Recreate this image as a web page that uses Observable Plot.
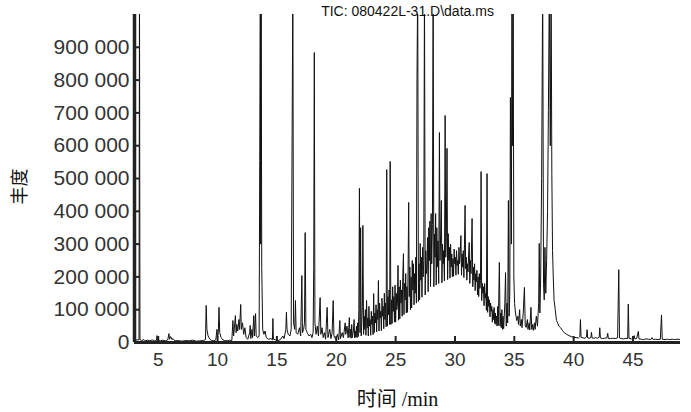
<!DOCTYPE html>
<html><head><meta charset="utf-8">
<script src="https://cdn.jsdelivr.net/npm/d3@7"></script>
<script src="https://cdn.jsdelivr.net/npm/@observablehq/plot@0.6"></script>
<style>
html,body{margin:0;padding:0;background:#fff;}
</style>
</head><body><div id="chart"></div>
<script>
const title = "TIC: 080422L-31.D\\data.ms";
const xLabel = "时间 /min";
const yLabel = "丰度";
const xTicks = [5, 10, 15, 20, 25, 30, 35, 40, 45];
const yTicks = [0, 100000, 200000, 300000, 400000, 500000, 600000, 700000, 800000, 900000];

// [time (min), abundance]
const early = [
  [3.0, 8000], [3.38, 8000], [3.42, 1100000], [3.46, 9000], [3.6, 6000], [3.8, 9000], [3.9, 5000],
  [4.1, 7000], [4.3, 5000], [4.5, 8000], [4.7, 5000], [4.85, 6000], [4.9, 21000], [4.95, 6000],
  [5.2, 5000], [5.4, 7000], [5.6, 5000], [5.8, 8000], [5.9, 27000], [5.95, 10000], [6.05, 18000],
  [6.15, 9000], [6.25, 12000], [6.4, 5000], [6.7, 6000], [7.0, 4000], [7.3, 6000], [7.6, 5000],
  [7.9, 7000], [8.2, 4000], [8.5, 5000], [8.8, 6000], [8.98, 9000], [9.04, 113000], [9.1, 40000],
  [9.2, 20000], [9.35, 10000], [9.5, 6000], [9.7, 5000], [9.85, 8000], [9.95, 40000], [10.0, 15000],
  [10.06, 30000], [10.12, 107000], [10.18, 30000], [10.3, 15000], [10.45, 8000], [10.6, 6000],
  [10.8, 5000], [11.0, 7000], [11.2, 6000], [11.29, 67000], [11.35, 20000], [11.45, 60000],
  [11.5, 82000], [11.56, 30000], [11.62, 55000], [11.7, 35000], [11.8, 70000], [11.85, 40000],
  [11.95, 116000], [12.0, 40000], [12.1, 60000], [12.2, 25000], [12.3, 45000], [12.4, 15000],
  [12.55, 10000], [12.7, 30000], [12.75, 52000], [12.8, 12000], [12.9, 40000], [12.95, 15000],
  [13.05, 82000], [13.1, 20000]
];
const middle = [
  [13.2, 88000], [13.25, 20000], [13.4, 15000], [13.5, 20000], [13.55, 555000], [13.6, 1100000],
  [13.63, 300000], [13.67, 1100000], [13.72, 229000], [13.8, 40000], [13.9, 25000], [14.0, 35000], [14.1, 15000],
  [14.3, 10000], [14.5, 12000], [14.62, 8000], [14.66, 73000], [14.7, 10000], [14.9, 8000],
  [15.1, 6000], [15.3, 9000], [15.5, 20000], [15.6, 12000], [15.75, 40000], [15.8, 92000],
  [15.85, 40000], [15.95, 25000], [16.1, 20000], [16.2, 40000], [16.28, 640000], [16.34, 1100000],
  [16.4, 60000], [16.5, 40000], [16.56, 128000], [16.62, 30000], [16.75, 25000], [16.9, 45000],
  [17.0, 20000], [17.1, 204000], [17.15, 30000], [17.25, 40000], [17.32, 60000], [17.38, 335000],
  [17.44, 40000], [17.55, 30000], [17.7, 20000], [17.85, 25000], [17.95, 15000], [18.05, 30000],
  [18.1, 229000], [18.15, 884000], [18.2, 60000], [18.3, 25000], [18.4, 50000], [18.5, 20000],
  [18.64, 137000], [18.7, 25000], [18.8, 45000], [18.9, 15000], [19.0, 30000], [19.1, 10000],
  [19.23, 107000], [19.3, 15000], [19.45, 40000], [19.55, 12000], [19.65, 30000], [19.74, 128000],
  [19.8, 20000], [19.95, 10000], [20.1, 25000], [20.2, 8000], [20.3, 67000], [20.35, 12000],
  [20.5, 30000], [20.6, 15000], [20.75, 60000], [20.8, 25000], [20.9, 50000]
];
const hump = [
  [21.0, 14000], [21.05, 45000], [21.1, 76000], [21.15, 16000], [21.2, 40000], [21.25, 13000],
  [21.3, 55000], [21.35, 15000], [21.45, 38000], [21.5, 70000], [21.55, 14000], [21.6, 35000],
  [21.65, 16000], [21.7, 50000], [21.75, 15000], [21.8, 60000], [21.85, 18000], [21.9, 100000],
  [21.95, 470000], [22.0, 30000], [22.05, 350000], [22.1, 20000], [22.15, 60000], [22.2, 110000],
  [22.24, 357000], [22.3, 25000], [22.35, 80000], [22.4, 40000], [22.45, 100000], [22.5, 22000],
  [22.55, 128000], [22.6, 45000], [22.65, 75000], [22.7, 20000], [22.75, 110000], [22.8, 50000],
  [22.85, 70000], [22.9, 22000], [22.95, 95000], [23.0, 55000], [23.05, 80000], [23.1, 24000],
  [23.15, 149000], [23.2, 30000], [23.25, 90000], [23.3, 60000], [23.35, 115000], [23.4, 32000],
  [23.45, 100000], [23.5, 70000], [23.55, 189000], [23.6, 35000], [23.65, 120000], [23.7, 75000],
  [23.75, 95000], [23.8, 36000], [23.85, 135000], [23.9, 80000], [23.95, 110000], [24.0, 42000],
  [24.05, 150000], [24.1, 70000], [24.15, 120000], [24.2, 48000], [24.25, 527000], [24.3, 50000],
  [24.35, 140000], [24.4, 85000], [24.45, 160000], [24.5, 55000], [24.54, 552000], [24.6, 55000],
  [24.65, 130000], [24.7, 58000], [24.75, 170000], [24.8, 95000], [24.85, 140000], [24.9, 62000],
  [24.95, 175000], [25.0, 62000], [25.05, 150000], [25.1, 100000], [25.15, 120000], [25.2, 235000],
  [25.25, 68000], [25.3, 170000], [25.35, 72000], [25.4, 190000], [25.45, 120000], [25.5, 160000],
  [25.55, 80000], [25.6, 200000], [25.66, 271000], [25.7, 85000], [25.75, 180000], [25.8, 130000],
  [25.85, 210000], [25.9, 90000], [25.95, 170000], [26.0, 92000], [26.05, 220000], [26.1, 427000],
  [26.15, 140000], [26.2, 230000], [26.25, 100000], [26.3, 200000], [26.35, 105000], [26.4, 250000],
  [26.45, 160000], [26.5, 240000], [26.55, 115000], [26.6, 210000], [26.65, 150000], [26.7, 260000],
  [26.75, 120000], [26.8, 805000], [26.86, 1100000], [26.92, 125000], [26.97, 240000], [27.02, 130000],
  [27.07, 302000], [27.12, 190000], [27.17, 260000], [27.22, 138000], [27.27, 290000], [27.32, 200000],
  [27.37, 250000], [27.43, 1100000], [27.49, 145000], [27.54, 280000], [27.59, 210000], [27.64, 230000],
  [27.69, 320000], [27.74, 155000], [27.79, 350000], [27.84, 250000], [27.89, 370000], [27.94, 170000],
  [27.99, 393000], [28.04, 240000], [28.1, 360000], [28.16, 1100000], [28.22, 170000], [28.27, 330000],
  [28.32, 260000], [28.37, 393000], [28.42, 175000], [28.47, 350000], [28.52, 230000], [28.57, 310000],
  [28.63, 180000], [28.69, 640000], [28.74, 250000], [28.8, 340000], [28.85, 433000], [28.9, 182000],
  [28.95, 300000], [29.0, 240000], [29.05, 280000], [29.11, 188000], [29.17, 692000], [29.22, 260000],
  [29.27, 320000], [29.33, 592000], [29.38, 192000], [29.43, 332000], [29.48, 250000], [29.53, 290000],
  [29.58, 196000], [29.63, 300000], [29.68, 230000], [29.73, 270000], [29.78, 200000], [29.83, 256000],
  [29.88, 202000], [29.93, 285000], [29.98, 240000], [30.03, 260000], [30.08, 205000], [30.13, 280000],
  [30.18, 235000], [30.23, 250000], [30.28, 208000], [30.33, 290000], [30.38, 240000], [30.43, 260000],
  [30.5, 326000], [30.55, 205000], [30.6, 270000], [30.65, 230000], [30.7, 280000], [30.75, 198000],
  [30.8, 300000], [30.85, 418000], [30.9, 225000], [30.95, 260000], [31.0, 190000], [31.05, 240000],
  [31.1, 215000], [31.15, 270000], [31.2, 305000], [31.25, 180000], [31.3, 250000], [31.35, 210000],
  [31.44, 378000], [31.5, 170000], [31.55, 230000], [31.6, 190000], [31.65, 240000], [31.7, 158000],
  [31.75, 210000], [31.8, 185000], [31.85, 220000], [31.9, 145000], [31.95, 200000], [32.0, 140000],
  [32.05, 210000], [32.1, 165000], [32.15, 190000], [32.2, 521000], [32.25, 128000], [32.3, 180000],
  [32.35, 150000], [32.4, 170000], [32.45, 112000], [32.5, 180000], [32.55, 135000], [32.6, 150000],
  [32.65, 98000], [32.7, 515000], [32.75, 92000], [32.8, 140000], [32.85, 110000], [32.9, 130000],
  [32.95, 78000], [33.0, 120000], [33.05, 95000], [33.1, 110000], [33.15, 62000], [33.2, 100000],
  [33.25, 70000], [33.3, 107000], [33.35, 58000], [33.4, 90000], [33.45, 55000], [33.5, 80000],
  [33.55, 50000], [33.6, 110000], [33.65, 52000], [33.74, 244000], [33.8, 50000], [33.85, 90000],
  [33.9, 45000], [33.95, 100000]
];
const late = [
  [34.0, 40000], [34.05, 80000], [34.1, 42000], [34.2, 120000], [34.26, 213000], [34.32, 50000],
  [34.38, 120000], [34.44, 60000], [34.5, 433000], [34.56, 80000], [34.62, 150000], [34.67, 747000],
  [34.75, 300000], [34.8, 1100000], [34.85, 600000], [34.9, 1100000], [34.96, 200000], [35.02, 119000],
  [35.1, 90000], [35.2, 67000], [35.3, 80000], [35.35, 55000], [35.45, 100000], [35.5, 50000],
  [35.6, 70000], [35.65, 45000], [35.75, 90000], [35.85, 168000], [35.92, 50000], [36.0, 46000],
  [36.1, 70000], [36.15, 40000], [36.25, 60000], [36.3, 38000], [36.4, 107000], [36.47, 40000],
  [36.55, 55000], [36.6, 37000], [36.7, 60000], [36.75, 40000], [36.85, 80000], [36.95, 50000],
  [37.05, 120000], [37.1, 302000], [37.15, 90000], [37.22, 200000], [37.3, 500000], [37.39, 1100000],
  [37.46, 180000], [37.52, 130000], [37.58, 290000], [37.65, 150000], [37.72, 250000], [37.8, 400000],
  [37.87, 707000], [37.95, 1100000], [38.03, 600000], [38.1, 1100000], [38.16, 515000], [38.22, 280000],
  [38.28, 200000], [38.35, 128000], [38.45, 100000], [38.55, 67000], [38.65, 60000], [38.75, 50000],
  [38.9, 45000], [39.05, 37000]
];
const tail = [
  [39.2, 30000], [39.4, 25000], [39.6, 21000], [39.8, 18000], [40.0, 16000], [40.2, 15000],
  [40.4, 14000], [40.52, 18000], [40.57, 70000], [40.62, 16000], [40.8, 14000], [40.95, 13000],
  [41.08, 17000], [41.13, 39000], [41.18, 14000], [41.3, 13000], [41.45, 15000], [41.5, 31000],
  [41.55, 14000], [41.7, 13000], [41.85, 15000], [42.0, 13000], [42.15, 16000], [42.2, 45000],
  [42.25, 14000], [42.45, 12000], [42.6, 13000], [42.8, 14000], [42.87, 28000], [42.92, 12000],
  [43.1, 12000], [43.3, 13000], [43.5, 12000], [43.7, 14000], [43.8, 222000], [43.86, 14000],
  [44.0, 12000], [44.2, 11000], [44.4, 13000], [44.55, 12000], [44.6, 117000], [44.66, 13000],
  [44.85, 11000], [45.0, 10000], [45.1, 21000], [45.15, 11000], [45.3, 12000], [45.45, 34000],
  [45.5, 11000], [45.7, 10000], [45.9, 9000], [46.1, 11000], [46.3, 10000], [46.5, 9000],
  [46.6, 15000], [46.7, 9000], [46.9, 10000], [47.1, 9000], [47.3, 10000], [47.4, 84000],
  [47.46, 10000], [47.7, 9000], [47.9, 10000], [48.1, 9000], [48.3, 10000], [48.5, 9000],
  [48.8, 10000], [49.0, 9000]
];

const trace = [...early, ...middle, ...hump, ...late, ...tail].map(([t, a]) => ({t, a}));
const fmt = v => d3.format(",")(v).replace(/,/g, " ");

const plot = Plot.plot({
  width: 691,
  height: 412,
  marginLeft: 134,
  marginRight: 11,
  marginTop: 14,
  marginBottom: 70,
  x: {domain: [3, 49]},
  y: {domain: [0, 1000000]},
  style: {fontFamily: "'Liberation Sans', Arial, sans-serif", background: "#fff", color: "#222", overflow: "visible"},
  marks: [
    Plot.line(trace, {x: "t", y: "a", stroke: "#111", strokeWidth: 1, clip: true}),
    Plot.axisY(yTicks, {tickSize: 0, tickPadding: 5, tickFormat: fmt, fontSize: 21, fill: "#333", label: null}),
    Plot.axisY(yTicks, {tickSize: -6, tickFormat: () => "", strokeWidth: 2, label: null}),
    Plot.axisX(xTicks, {tickSize: 0, tickPadding: 10, fontSize: 19, fill: "#333", label: null}),
    Plot.axisX(xTicks, {tickSize: -6, tickFormat: () => "", strokeWidth: 2, label: null}),
    Plot.ruleX([3], {strokeWidth: 3.5}),
    Plot.ruleY([0], {strokeWidth: 3}),
    Plot.text([title], {text: d => d, frameAnchor: "top", lineAnchor: "bottom", dy: 1, fontSize: 14, fill: "#111"}),
    Plot.text([yLabel], {text: d => d, frameAnchor: "left", rotate: -90, dx: -114, dy: 26, fontSize: 18, fontFamily: "'Noto Sans CJK SC'", fill: "#111"}),
    Plot.text([xLabel], {text: d => d, frameAnchor: "bottom", lineAnchor: "bottom", dx: -10, dy: 63, fontSize: 20, fontFamily: "'Liberation Serif','Noto Sans CJK SC'", fill: "#111"})
  ]
});
document.getElementById("chart").appendChild(plot);
</script>
</body></html>
